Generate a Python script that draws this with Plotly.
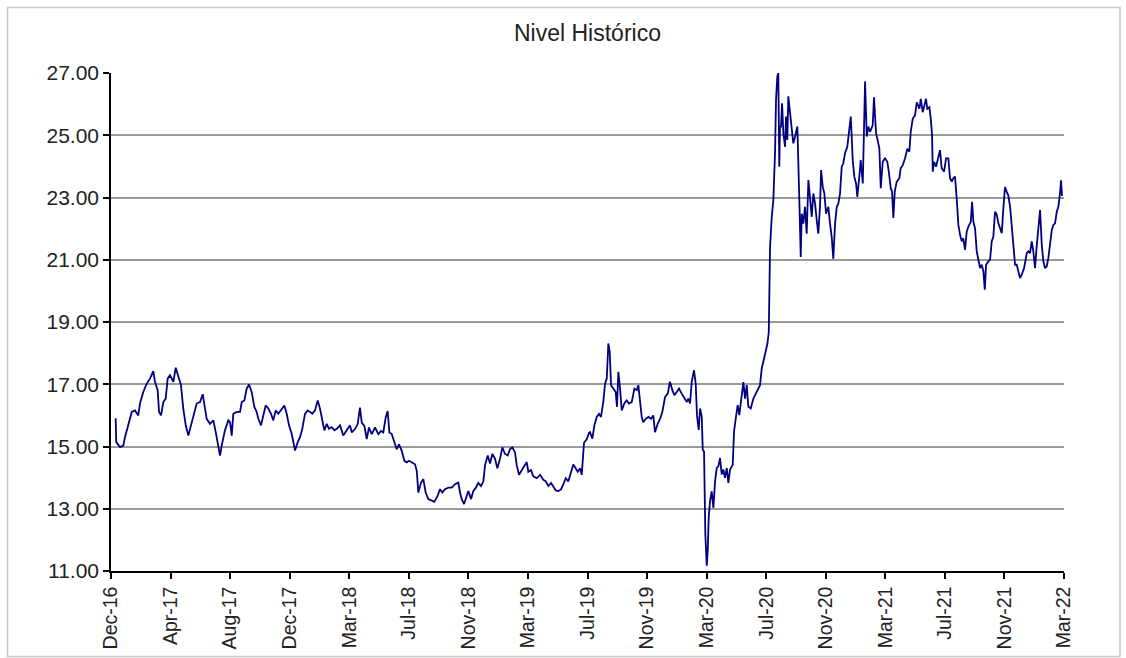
import plotly.graph_objects as go

# observation number (60 observations between labelled ticks) and level
obs = [4.7, 5.3, 9.1, 12.4, 14.1, 17.4, 20.9, 24.2, 27.5, 29.2, 32.5, 36.0, 39.3, 42.6, 44.3, 47.0, 48.4, 50.4,
       52.7, 55.1, 57.1, 59.4, 62.8, 65.2, 67.8, 70.5, 72.8, 75.3, 77.9, 80.6, 82.9, 86.3, 89.7, 92.4, 94.7, 96.4,
       99.7, 103.1, 105.5, 108.1, 109.8, 111.5, 114.8, 118.2,
       119.9, 121.6, 123.2, 126.6, 130.0, 131.7, 134.3, 136.7, 139.0, 141.7, 144.4, 146.8, 148.4, 151.1, 153.4,
       155.8, 158.5, 161.2, 163.5, 165.9, 168.5, 172.0, 174.6, 177.0, 179.3, 182.0, 183.7, 185.4, 188.1, 190.4,
       192.7, 195.4, 198.2, 200.5, 202.8, 205.5, 208.2, 210.5, 212.9, 214.9, 217.3, 219.6, 222.3, 225.0, 227.4,
       230.7, 234.0, 237.4, 240.8,
       242.5, 245.8, 248.5, 250.8, 252.6, 255.2, 257.6, 259.9, 262.6, 266.0, 269.3, 272.0, 274.3, 276.7, 278.7,
       280.4, 282.8, 285.4, 287.8, 290.1, 292.9, 295.5, 297.9, 300.2, 302.9, 306.2, 308.0, 309.6, 312.3, 314.6,
       317.0, 319.6, 323.1, 325.7, 329.1, 331.4, 333.8, 336.5, 339.8, 343.2, 346.5, 349.9, 351.6, 353.3, 355.6,
       358.3,
       360.0, 362.7, 365.0, 367.4, 370.0, 372.7, 375.1, 376.8, 379.5, 381.8, 384.1, 386.8, 389.2, 391.9, 394.2,
       396.9, 399.6, 402.0, 404.3, 407.0, 408.7, 411.0, 413.7, 416.4, 418.8, 420.4, 423.1, 425.4, 428.9, 432.2,
       435.5, 437.9, 440.5, 443.3, 445.6, 448.0, 450.6, 453.3, 455.6, 458.1, 460.7, 463.4, 465.7, 468.1, 470.2,
       472.5, 474.2, 476.5, 479.2, 481.5,
       482.5, 484.9, 486.9, 489.3, 491.6, 493.6, 495.9, 497.7, 499.4, 501.0, 502.4, 503.7, 506.0, 508.4, 509.7,
       511.1, 512.8, 514.5, 517.1, 519.5, 521.8, 524.6, 527.2, 529.6, 531.2, 532.9, 534.6, 536.2, 538.7, 541.3,
       544.0, 546.3, 548.0, 550.7, 553.1, 555.4, 558.1, 560.8, 563.1, 565.5, 567.5, 569.9, 572.2, 574.9, 577.5,
       580.0, 581.6, 583.3, 585.0, 587.3, 589.0, 590.3,
       592.0, 593.4, 595.1, 596.1, 597.4, 598.1, 598.7, 600.1, 601.1, 602.1, 603.4, 605.1, 606.8, 608.5, 610.2,
       611.8, 613.5, 615.2, 616.8, 618.5, 620.3, 621.9, 623.6, 626.3, 627.6, 629.6, 631.3, 632.9, 634.7, 637.0,
       638.7, 640.4, 642.0, 644.4, 647.1, 648.8, 651.1, 653.8, 655.5, 657.8, 659.8, 661.2, 662.6,
       663.4, 663.9, 665.6, 667.2, 668.9, 669.9, 671.2, 672.2, 673.2, 673.9, 674.9, 676.0, 677.3, 679.0, 680.0,
       681.3, 682.3, 684.0, 685.7, 687.3, 689.1, 691.4, 693.4, 694.8, 695.8, 697.4, 699.1, 700.8, 702.5, 704.2,
       705.9, 707.5, 709.2, 710.9, 712.5, 714.2, 715.3, 717.0, 718.6, 720.3, 722.6, 724.3, 726.0, 727.6, 729.4,
       731.1, 732.7, 734.4, 736.1, 737.7, 739.4, 741.7, 743.8, 745.2, 747.2, 748.8, 750.5, 751.8, 753.8, 755.2,
       757.3, 758.6, 759.6, 761.3, 762.9,
       764.6, 767.3, 768.6, 770.7, 772.0, 774.0, 775.4, 777.4, 779.7, 782.0, 783.5, 785.5, 786.8, 788.1, 789.5,
       791.5, 794.1, 795.5, 797.6, 799.9, 802.2, 804.2, 805.6, 807.6, 809.9, 811.7, 814.3, 815.7, 817.7, 819.0,
       821.0, 822.3, 824.4, 825.8, 827.1, 827.8, 829.1, 831.1, 833.4, 835.1, 836.8, 839.2, 841.2, 843.5, 845.2,
       846.9, 848.5, 850.2,
       851.9, 853.6, 855.3, 857.0, 858.6, 860.3, 862.0, 863.6, 866.1, 867.4, 868.7, 870.4, 872.1, 873.7, 875.4,
       877.1, 878.8, 880.2, 881.5, 883.8, 885.5, 887.2, 888.8, 890.5, 892.3, 893.9, 895.6, 897.3, 898.9, 900.6,
       902.3, 903.9, 905.7, 907.4, 909.0, 910.7, 912.4, 914.0, 915.7, 917.4, 919.8, 922.5, 924.1, 925.8, 927.5,
       929.1, 930.8, 932.5, 934.2, 935.9, 937.6, 939.2, 940.9, 942.6, 944.2, 945.9, 947.7, 949.3, 951.0, 952.7,
       954.3, 956.0, 957.0, 958.0]

level = [15.91, 15.14, 14.98, 15.03, 15.30, 15.73, 16.11, 16.16, 16.00, 16.38, 16.75, 17.02, 17.18, 17.42, 17.08,
         16.81, 16.11, 16.00, 16.43, 16.54, 17.18, 17.29, 17.08, 17.53, 17.24, 16.97, 16.22, 15.68, 15.35, 15.68,
         16.00, 16.38, 16.43, 16.68, 16.22, 15.89, 15.73, 15.84, 15.46, 14.98, 14.71, 15.03, 15.52, 15.84,
         15.78, 15.35, 16.05, 16.11, 16.11, 16.43, 16.48, 16.86, 16.99, 16.75, 16.27, 16.11, 15.89, 15.68, 15.95,
         16.32, 16.22, 16.05, 15.84, 16.16, 16.05, 16.22, 16.32, 16.05, 15.68, 15.41, 15.14, 14.87, 15.14, 15.30,
         15.57, 16.05, 16.16, 16.11, 16.05, 16.16, 16.48, 16.22, 15.89, 15.52, 15.73, 15.57, 15.62, 15.52, 15.57,
         15.68, 15.35, 15.52, 15.68,
         15.45, 15.56, 15.72, 16.25, 15.77, 15.66, 15.24, 15.61, 15.40, 15.61, 15.40, 15.50, 15.45, 15.93, 16.14,
         15.45, 15.40, 15.18, 14.91, 15.07, 14.86, 14.54, 14.49, 14.54, 14.49, 14.43, 14.22, 13.52, 13.84, 13.95,
         13.52, 13.31, 13.26, 13.22, 13.42, 13.63, 13.52, 13.63, 13.68, 13.68, 13.79, 13.84, 13.52, 13.31, 13.15,
         13.42,
         13.57, 13.31, 13.57, 13.67, 13.83, 13.73, 13.88, 14.40, 14.71, 14.45, 14.76, 14.61, 14.30, 14.61, 14.97,
         14.76, 14.71, 14.92, 14.97, 14.81, 14.40, 14.09, 14.24, 14.35, 14.50, 14.19, 14.24, 14.04, 13.98, 14.09,
         13.93, 13.88, 13.73, 13.83, 13.73, 13.59, 13.57, 13.62, 13.78, 13.98, 13.88, 14.19, 14.42, 14.30, 14.19,
         14.30, 14.09, 15.12, 15.23, 15.44,
         15.46, 15.25, 15.68, 15.95, 16.05, 15.95, 16.43, 17.02, 17.18, 18.31, 18.04, 16.97, 16.86, 16.75, 16.27,
         17.40, 16.86, 16.16, 16.38, 16.48, 16.38, 16.43, 16.86, 16.81, 16.97, 16.54, 15.95, 15.78, 15.89, 15.95,
         15.89, 16.00, 15.46, 15.73, 15.89, 16.11, 16.59, 16.70, 17.08, 16.81, 16.65, 16.75, 16.86, 16.70, 16.54,
         16.43, 16.54, 16.38, 17.08, 17.45, 17.02, 16.00,
         15.53, 16.22, 15.96, 14.89, 14.84, 13.24, 12.18, 11.17, 11.65, 12.71, 13.24, 13.56, 13.03, 13.88, 14.31,
         14.36, 14.63, 14.10, 14.26, 13.99, 14.31, 13.83, 14.26, 14.41, 15.48, 15.96, 16.33, 16.01, 16.54, 17.07,
         16.54, 16.97, 16.28, 16.22, 16.54, 16.65, 16.81, 16.97, 17.50, 17.82, 18.03, 18.30, 18.67,
         20.50, 21.41, 22.38, 22.91, 24.42, 26.14, 26.89, 27.00, 23.99, 25.28, 25.28, 26.03, 25.06, 24.63, 25.60,
         24.85, 26.25, 25.66, 25.06, 24.74, 24.96, 25.28, 22.91, 21.09, 22.48, 22.16, 22.70, 21.84, 23.56, 22.91,
         22.38, 23.13, 22.81, 22.27, 21.84, 22.70, 23.88, 23.34, 23.13, 22.48, 22.70, 22.16, 21.73, 21.03, 22.16,
         22.70, 22.81, 23.13, 23.99, 24.10, 24.42, 24.63, 25.28, 25.60, 24.20, 23.67, 23.45, 23.02, 23.67, 24.20,
         23.45, 25.17, 26.73, 24.96, 25.28,
         25.11, 25.32, 26.22, 25.05, 24.89, 24.57, 23.30, 24.15, 24.26, 24.15, 23.83, 23.30, 23.19, 22.34, 23.19,
         23.51, 23.62, 23.94, 24.04, 24.26, 24.57, 24.47, 25.11, 25.53, 25.64, 26.06, 25.85, 26.17, 25.74, 25.96,
         26.17, 25.85, 25.90, 25.53, 25.00, 23.83, 24.15, 23.99, 24.36, 24.52, 23.94, 23.83, 24.26, 24.26, 23.62,
         23.51, 23.62, 23.67,
         22.97, 22.12, 21.80, 21.59, 21.69, 21.32, 21.90, 22.06, 22.22, 22.86, 22.22, 22.01, 21.27, 20.95, 20.73,
         20.84, 20.63, 20.04, 20.84, 20.95, 21.00, 21.59, 21.74, 22.54, 22.44, 22.17, 22.01, 21.85, 22.65, 23.34,
         23.18, 23.07, 22.70, 22.01, 21.27, 20.84, 20.84, 20.63, 20.41, 20.52, 20.73, 21.21, 21.27, 21.21, 21.59,
         21.27, 20.73, 21.43, 22.01, 22.60, 21.48, 20.95, 20.73, 20.79, 21.05, 21.48, 21.96, 22.12, 22.17, 22.54,
         22.70, 23.13, 23.55, 23.05]

tick_obs = [0, 60, 120, 180, 240, 300, 360, 420, 480, 540, 600, 660, 720, 780, 840, 900, 960]
tick_labels = ['Dec-16', 'Apr-17', 'Aug-17', 'Dec-17', 'Mar-18', 'Jul-18', 'Nov-18', 'Mar-19', 'Jul-19',
               'Nov-19', 'Mar-20', 'Jul-20', 'Nov-20', 'Mar-21', 'Jul-21', 'Nov-21', 'Mar-22']
y_ticks = [11, 13, 15, 17, 19, 21, 23, 25, 27]

font = 'Arial, Liberation Sans, sans-serif'

fig = go.Figure()
fig.add_trace(go.Scatter(x=obs, y=level, mode='lines', line=dict(color='#000080', width=1.8),
                         showlegend=False, hoverinfo='y'))

fig.update_layout(
    width=1126, height=658,
    margin=dict(l=111, r=62, t=73, b=87),
    paper_bgcolor='white', plot_bgcolor='white',
    title=dict(text='Nivel Histórico', x=(111 + 953 / 2) / 1126, xanchor='center', y=1 - 33 / 658,
               yanchor='middle', font=dict(family=font, size=23, color='#222222')),
    font=dict(family=font, color='#222222'),
)
fig.update_xaxes(range=[0, 960], tickmode='array', tickvals=tick_obs, ticktext=tick_labels, tickangle=-90,
                 showgrid=False, zeroline=False, showline=True, linecolor='black', linewidth=1.5,
                 ticks='outside', ticklen=6, tickcolor='black', tickwidth=1.5, automargin=False,
                 tickfont=dict(family=font, size=19.5, color='#222222'))
fig.update_yaxes(range=[11, 27], tickmode='array', tickvals=y_ticks, tickformat='.2f',
                 showgrid=True, gridcolor='#9a9a9a', gridwidth=1.5, zeroline=False,
                 showline=True, linecolor='black', linewidth=1.5, automargin=False,
                 ticks='outside', ticklen=6, tickcolor='black', tickwidth=1.5,
                 tickfont=dict(family=font, size=21, color='#222222'))

# outer frame around the chart
fig.add_shape(type='rect', xref='paper', yref='paper',
              x0=(7.5 - 111) / 953, x1=(1120 - 111) / 953, y0=(571 - 656.5) / 498, y1=(571 - 7.5) / 498,
              line=dict(color='#c8c8c8', width=1.5), layer='below')

# page body has a default 8px margin; remove it so the figure fills the window
fig.write_html('out.html', config={'displayModeBar': False},
               post_script="document.body.style.margin='0';document.body.style.overflow='hidden';")
